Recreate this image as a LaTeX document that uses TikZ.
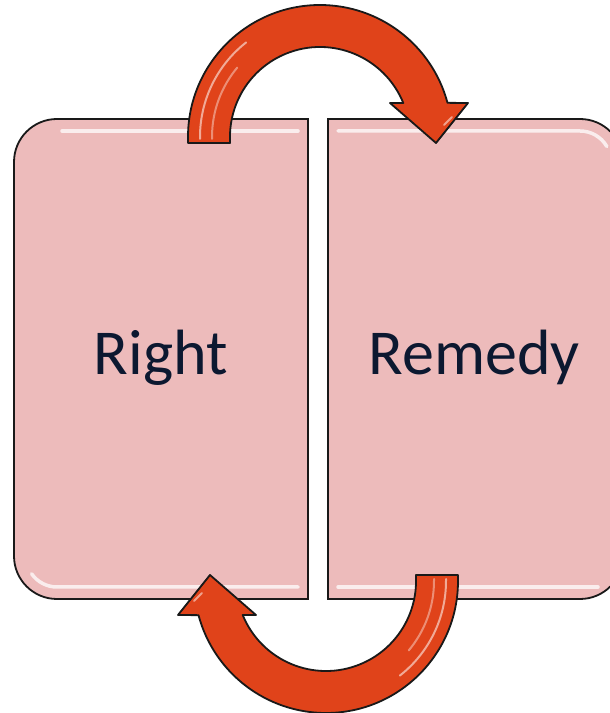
\documentclass[tikz,border=0pt]{standalone}
\usepackage{fontspec}
\setmainfont{Carlito}
\definecolor{boxfill}{HTML}{EDBBBB}
\definecolor{arrowred}{HTML}{E0431A}
\definecolor{textnavy}{HTML}{0C1830}
\tikzset{
  boxshape/.style={fill=boxfill, draw=black!90, line width=1.8pt},
  arcarrow/.style={fill=arrowred, draw=black!90, line width=1.8pt, line join=round},
  gloss/.style={draw=white, line width=3.5pt, opacity=0.75, line cap=round},
  streak/.style={draw=white, line width=2pt, opacity=0.55, line cap=round},
  boxlabel/.style={text=textnavy, font=\fontsize{64}{76}\selectfont, anchor=base, inner sep=0pt}
}
\begin{document}
\begin{tikzpicture}[x=1pt,y=1pt]
\useasboundingbox (0,0) rectangle (610,713);
% left box
\draw[boxshape] (308,594) -- (57,594) arc[start angle=90,end angle=180,radius=43pt]
  -- (14,157) arc[start angle=180,end angle=270,radius=43pt] -- (308,114) -- cycle;
\draw[gloss] (62,582) -- (298,582);
\draw[gloss] (298,126) -- (57,126) arc[start angle=270,end angle=215,radius=31pt];
% right box
\draw[boxshape] (328,594) -- (580,594) arc[start angle=90,end angle=0,radius=43pt]
  -- (623,157) arc[start angle=0,end angle=-90,radius=43pt] -- (328,114) -- cycle;
\draw[gloss] (338,582) -- (580,582) arc[start angle=90,end angle=30,radius=31pt];
\draw[gloss] (338,126) -- (598,126);
% labels
\node[boxlabel] (right) at (161,338) {Right};
\node[boxlabel] (remedy) at (474,338) {Remedy};
% top arrow
\draw[arcarrow] (188,570) -- (188,576) arc[start angle=180,end angle=15,radius=132pt]
  -- (468,610) -- (436,570) -- (390,610) -- (403.3,610)
  arc[start angle=22.2,end angle=180,radius=90pt] -- (230,570) -- cycle;
\draw[streak] (200,574) -- (200,576) arc[start angle=180,end angle=128,radius=120pt];
\draw[streak, opacity=0.4] (212,574) -- (212,576) arc[start angle=180,end angle=140,radius=108pt];
\draw[streak, opacity=0.5] (452,596) -- (444,588);
% bottom arrow (rotated copy)
\begin{scope}[rotate around={180:(323,354)}]
\draw[arcarrow] (188,570) -- (188,576) arc[start angle=180,end angle=15,radius=132pt]
  -- (468,610) -- (436,570) -- (390,610) -- (403.3,610)
  arc[start angle=22.2,end angle=180,radius=90pt] -- (230,570) -- cycle;
\draw[streak] (200,574) -- (200,576) arc[start angle=180,end angle=128,radius=120pt];
\draw[streak, opacity=0.4] (212,574) -- (212,576) arc[start angle=180,end angle=140,radius=108pt];
\draw[streak, opacity=0.5] (452,596) -- (444,588);
\end{scope}
\end{tikzpicture}
\end{document}
